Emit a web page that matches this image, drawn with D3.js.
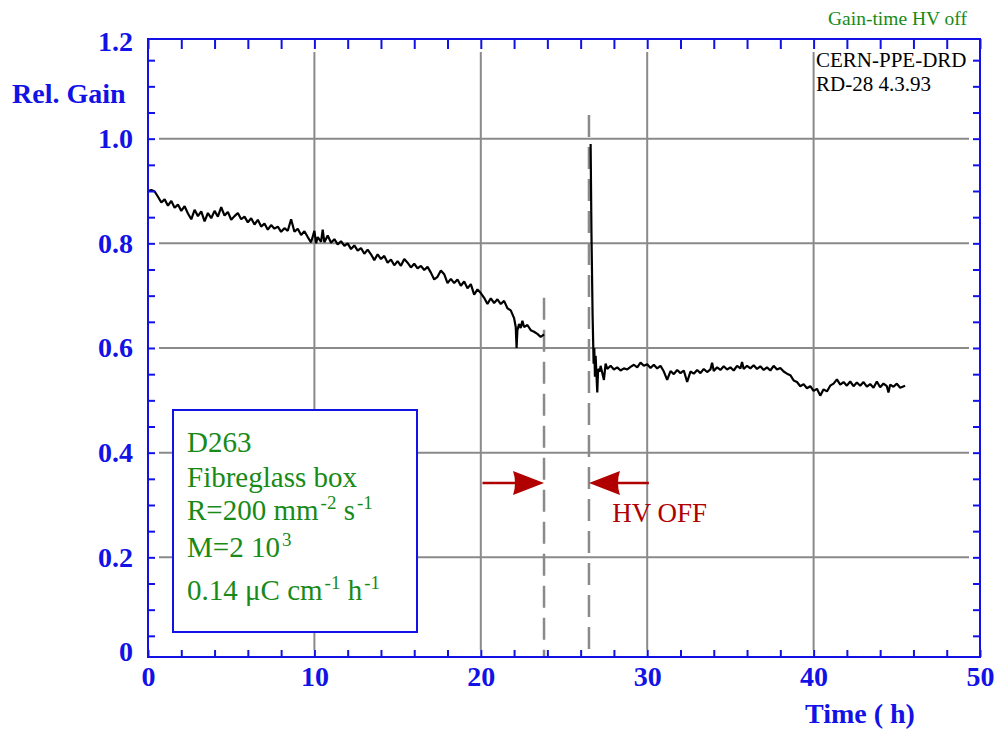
<!DOCTYPE html>
<html lang="en">
<head>
<meta charset="utf-8">
<title>Gain-time HV off</title>
<script src="https://d3js.org/d3.v7.min.js"></script>
<style>
  body { margin: 0; background: #fff; }
  svg text { font-family: "Liberation Serif", "Times New Roman", serif; }
</style>
</head>
<body>
<div id="chart"></div>
<script>
"use strict"

// gain before the HV was switched off (time in h, relative gain)
var tBefore = [0.0, 0.2, 0.4, 0.6, 0.8, 1.0, 1.2, 1.4, 1.6, 1.8, 2.0, 2.2, 2.4, 2.6, 2.8, 3.0, 3.2, 3.4, 3.6, 3.8,
  4.0, 4.2, 4.4, 4.6, 4.8, 5.0, 5.2, 5.4, 5.6, 5.8, 6.0, 6.2, 6.4, 6.6, 6.8, 7.0, 7.2, 7.4, 7.6, 7.8,
  8.0, 8.2, 8.4, 8.6, 8.8, 9.0, 9.2, 9.4, 9.6, 9.8, 10.0, 10.1, 10.2, 10.4, 10.5, 10.6, 10.8, 11.0, 11.2, 11.4,
  11.6, 11.8, 12.0, 12.2, 12.4, 12.6, 12.8, 13.0, 13.2, 13.4, 13.6, 13.8, 14.0, 14.2, 14.4, 14.6, 14.8, 15.0, 15.2, 15.4,
  15.6, 15.8, 16.0, 16.2, 16.4, 16.6, 16.8, 17.0, 17.2, 17.4, 17.6, 17.8, 18.0, 18.2, 18.4, 18.6, 18.8, 19.0, 19.2, 19.4,
  19.6, 19.8, 20.0, 20.2, 20.4, 20.6, 20.8, 21.0, 21.2, 21.4, 21.6, 21.8, 22.0, 22.1, 22.15, 22.2, 22.3, 22.4, 22.5, 22.6,
  22.8, 23.0, 23.2, 23.4, 23.6, 23.8]
var gainBefore = [0.900, 0.902, 0.899, 0.889, 0.878, 0.884, 0.872, 0.881, 0.868, 0.874, 0.862, 0.871, 0.857, 0.846, 0.864, 0.852, 0.861, 0.842, 0.858, 0.848,
  0.862, 0.851, 0.869, 0.853, 0.860, 0.845, 0.852, 0.858, 0.846, 0.851, 0.840, 0.848, 0.836, 0.845, 0.832, 0.838, 0.826, 0.835, 0.828, 0.832,
  0.822, 0.829, 0.824, 0.846, 0.822, 0.828, 0.816, 0.823, 0.812, 0.802, 0.824, 0.800, 0.812, 0.803, 0.826, 0.802, 0.815, 0.801, 0.808, 0.798,
  0.804, 0.795, 0.800, 0.789, 0.796, 0.786, 0.791, 0.780, 0.788, 0.779, 0.768, 0.779, 0.770, 0.776, 0.763, 0.769, 0.758, 0.766, 0.757, 0.770,
  0.763, 0.754, 0.761, 0.752, 0.757, 0.749, 0.755, 0.744, 0.731, 0.736, 0.748, 0.741, 0.724, 0.732, 0.724, 0.731, 0.719, 0.727, 0.714, 0.722,
  0.702, 0.712, 0.705, 0.696, 0.684, 0.695, 0.686, 0.693, 0.684, 0.690, 0.676, 0.672, 0.657, 0.640, 0.600, 0.634, 0.646, 0.638, 0.652, 0.640,
  0.644, 0.634, 0.631, 0.627, 0.621, 0.626]

// gain after the HV came back on
var tAfter = [26.6, 26.65, 26.72, 26.78, 26.82, 26.86, 26.9, 27.0, 27.05, 27.15, 27.2, 27.4, 27.5, 27.6, 27.8, 28.0, 28.2, 28.4, 28.6, 28.8,
  29.0, 29.2, 29.4, 29.6, 29.8, 30.0, 30.2, 30.4, 30.6, 30.8, 31.0, 31.2, 31.4, 31.6, 31.8, 32.0, 32.2, 32.4, 32.6, 32.8,
  33.0, 33.2, 33.4, 33.6, 33.8, 33.9, 34.0, 34.2, 34.4, 34.6, 34.8, 35.0, 35.2, 35.4, 35.6, 35.7, 35.8, 36.0, 36.2, 36.4,
  36.6, 36.8, 37.0, 37.2, 37.4, 37.6, 37.8, 38.0, 38.2, 38.4, 38.6, 38.8, 39.0, 39.2, 39.4, 39.6, 39.8, 40.0, 40.2, 40.4,
  40.6, 40.8, 41.0, 41.2, 41.4, 41.6, 41.8, 42.0, 42.2, 42.4, 42.6, 42.8, 43.0, 43.2, 43.4, 43.6, 43.8, 44.0, 44.2, 44.4,
  44.5, 44.6, 44.8, 45.0, 45.2, 45.5]
var gainAfter = [0.990, 0.820, 0.660, 0.570, 0.600, 0.545, 0.585, 0.515, 0.560, 0.555, 0.566, 0.539, 0.570, 0.560, 0.566, 0.559, 0.563, 0.557, 0.561, 0.559,
  0.564, 0.568, 0.563, 0.572, 0.566, 0.569, 0.562, 0.568, 0.561, 0.566, 0.555, 0.539, 0.556, 0.550, 0.558, 0.552, 0.557, 0.535, 0.555, 0.551,
  0.558, 0.552, 0.560, 0.554, 0.559, 0.572, 0.556, 0.563, 0.558, 0.565, 0.559, 0.563, 0.557, 0.566, 0.561, 0.573, 0.560, 0.566, 0.561, 0.567,
  0.560, 0.565, 0.558, 0.563, 0.557, 0.566, 0.559, 0.562, 0.555, 0.551, 0.548, 0.538, 0.535, 0.527, 0.531, 0.523, 0.527, 0.518, 0.522, 0.509,
  0.521, 0.517, 0.528, 0.532, 0.540, 0.530, 0.535, 0.528, 0.536, 0.527, 0.534, 0.528, 0.535, 0.526, 0.531, 0.524, 0.536, 0.525, 0.532, 0.527,
  0.515, 0.530, 0.526, 0.532, 0.524, 0.528]

var xTicks = [0, 10, 20, 30, 40, 50]
var xGrid = [10, 20, 30, 40]
var yTicks = [0, 0.2, 0.4, 0.6, 0.8, 1.0, 1.2]
var yLabels = ["0", "0.2", "0.4", "0.6", "0.8", "1.0", "1.2"]
var yGrid = [0.2, 0.4, 0.6, 0.8, 1.0]

// HV switched off between these times; dashed markers go up to these gains
var hvTimes = [23.8, 26.5]
var hvMarkTop = [0.696, 1.045]
var arrowFrom = [20.1, 30.1]
var arrowGain = 0.342

var legendLines = ["D263", "Fibreglass box", "R=200 mm|-2| s|-1", "M=2 10|3", "0.14 \u03bcC cm|-1| h|-1"]

var blue = "#1212e6", gridCol = "#8a8a8a", red = "#b00000", green = "#178a17"

var svg = d3.select("#chart").append("svg")
  .attr("width", 1002).attr("height", 733)

var x = d3.scaleLinear().domain([0, 50]).range([148, 980])
var y = d3.scaleLinear().domain([0, 1.2]).range([662, 34])
var frameTop = 39, frameBottom = 657

// grid
svg.selectAll(".vgrid").data(xGrid).enter().append("line")
  .attr("x1", d => x(d)).attr("x2", d => x(d))
  .attr("y1", frameTop + 13).attr("y2", frameBottom - 7)
  .attr("stroke", gridCol).attr("stroke-width", 2)
svg.selectAll(".hgrid").data(yGrid).enter().append("line")
  .attr("x1", x(0) + 11).attr("x2", x(50) - 11)
  .attr("y1", d => y(d)).attr("y2", d => y(d))
  .attr("stroke", gridCol).attr("stroke-width", 2)

// HV off markers
svg.selectAll(".hv").data(hvTimes).enter().append("line")
  .attr("x1", d => x(d)).attr("x2", d => x(d))
  .attr("y1", (d, i) => y(hvMarkTop[i])).attr("y2", frameBottom)
  .attr("stroke", gridCol).attr("stroke-width", 2.5)
  .attr("stroke-dasharray", "22,10")

// arrows
hvTimes.forEach(function(t, i) {
  var tip = x(t), from = x(arrowFrom[i]), ay = y(arrowGain)
  var dir = from < tip ? 1 : -1
  svg.append("line")
    .attr("x1", from).attr("x2", tip - dir * 25)
    .attr("y1", ay).attr("y2", ay)
    .attr("stroke", red).attr("stroke-width", 2.5)
  svg.append("path")
    .attr("d", "M" + tip + "," + ay + "L" + (tip - dir * 31) + "," + (ay - 12) +
      "Q" + (tip - dir * 27) + "," + ay + " " + (tip - dir * 31) + "," + (ay + 12) + "Z")
    .attr("fill", red)
})
svg.append("text").attr("x", x(27.9)).attr("y", 522)
  .attr("fill", red).attr("font-size", 27).text("HV OFF")

// data
var line = d3.line().x(d => x(d[0])).y(d => y(d[1]))
;[[tBefore, gainBefore], [tAfter, gainAfter]].forEach(function(s) {
  svg.append("path")
    .datum(d3.zip(s[0], s[1]))
    .attr("d", line)
    .attr("fill", "none").attr("stroke", "#000").attr("stroke-width", 2.2)
    .attr("stroke-linejoin", "bevel")
})

// legend box
svg.append("rect").attr("x", 173).attr("y", 410).attr("width", 244).attr("height", 222)
  .attr("fill", "#fff").attr("stroke", blue).attr("stroke-width", 2)
var baselines = [452, 487, 520, 557, 600]
legendLines.forEach(function(s, i) {
  var t = svg.append("text").attr("x", 187).attr("y", baselines[i])
    .attr("fill", green).attr("font-size", 29)
  s.split("|").forEach(function(part, j) {
    var sup = j % 2 == 1
    t.append("tspan").text(part)
      .attr("font-size", sup ? 19 : 29)
      .attr("dy", sup ? -11 : (j > 0 ? 11 : 0))
      .attr("dx", sup ? 2 : 0)
  })
})

// frame
svg.append("rect").attr("x", x(0)).attr("y", frameTop)
  .attr("width", x(50) - x(0)).attr("height", frameBottom - frameTop)
  .attr("fill", "none").attr("stroke", blue).attr("stroke-width", 2)

function styleAxis(g, size) {
  g.select(".domain").remove()
  g.style("color", blue)
    .attr("font-family", "Liberation Serif, serif")
    .attr("font-weight", "bold").attr("font-size", size)
  g.selectAll("line").attr("stroke-width", 2)
}

var minorX = d3.range(0, 26).map(i => i * 2)
var minorY = d3.range(1, 24).map(i => i * 0.05)

svg.append("g").attr("transform", "translate(0," + frameBottom + ")")
  .call(d3.axisBottom(x).tickValues(minorX).tickSizeInner(-7).tickSizeOuter(0)
    .tickPadding(9).tickFormat(d => xTicks.indexOf(d) >= 0 ? d : ""))
  .call(styleAxis, 28)
svg.append("g").attr("transform", "translate(0," + frameTop + ")")
  .call(d3.axisTop(x).tickValues(minorX).tickSizeInner(-10).tickSizeOuter(0).tickFormat(""))
  .call(styleAxis, 28)
svg.append("g").attr("transform", "translate(" + x(0) + ",0)")
  .call(d3.axisLeft(y).tickValues(minorY).tickSizeInner(-7).tickSizeOuter(0).tickFormat(""))
  .call(styleAxis, 28)
var yLab = svg.append("g").attr("transform", "translate(" + x(0) + ",0)")
  .call(d3.axisLeft(y).tickValues(yTicks).tickSize(0).tickPadding(15)
    .tickFormat((d, i) => yLabels[i]))
  .call(styleAxis, 28)
// the end labels sit just inside the frame in the original
yLab.selectAll(".tick")
  .filter(d => d == 0 || d == 1.2)
  .attr("transform", d => "translate(0," + (d == 0 ? frameBottom - 5 : frameTop + 3) + ")")
svg.append("g").attr("transform", "translate(" + x(50) + ",0)")
  .call(d3.axisRight(y).tickValues(minorY).tickSizeInner(-7).tickSizeOuter(0).tickFormat(""))
  .call(styleAxis, 28)

// titles
svg.append("text").attr("x", 12).attr("y", 103)
  .attr("fill", blue).attr("font-weight", "bold").attr("font-size", 28).text("Rel. Gain")
svg.append("text").attr("x", 805).attr("y", 723)
  .attr("fill", blue).attr("font-weight", "bold").attr("font-size", 28).text("Time ( h)")
svg.append("text").attr("x", 828).attr("y", 25)
  .attr("fill", green).attr("font-size", 19.5).text("Gain-time HV off")
svg.append("text").attr("x", 816).attr("y", 67)
  .attr("fill", "#000").attr("font-size", 21).text("CERN-PPE-DRD")
svg.append("text").attr("x", 816).attr("y", 91)
  .attr("fill", "#000").attr("font-size", 21).text("RD-28 4.3.93")
</script>
</body>
</html>
